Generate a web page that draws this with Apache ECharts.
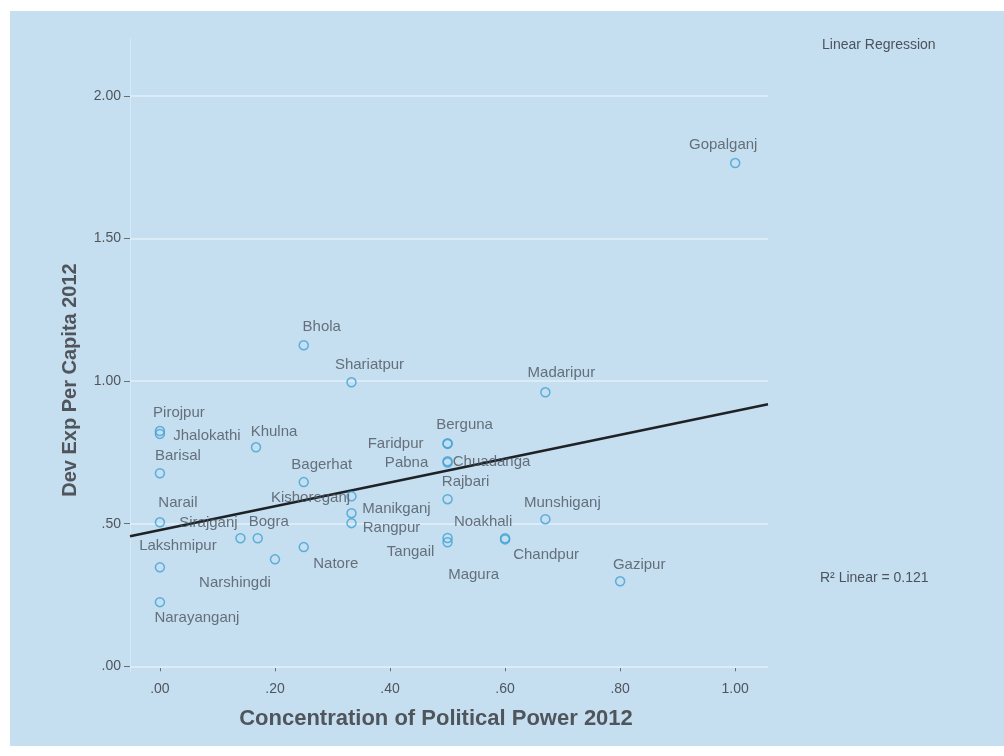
<!DOCTYPE html>
<html>
<head>
<meta charset="utf-8">
<script src="https://cdn.jsdelivr.net/npm/echarts@6/dist/echarts.min.js"></script>
<style>
html,body{margin:0;padding:0;background:#ffffff;}
#chart{width:1004px;height:756px;}
</style>
</head>
<body>
<div id="chart"></div>
<script>
// ---- data ----
const districts = ['Gopalganj','Bhola','Shariatpur','Madaripur','Pirojpur','Jhalokathi','Khulna','Barisal','Bagerhat','Berguna','Faridpur','Pabna','Chuadanga','Rajbari','Kishoreganj','Manikganj','Rangpur','Noakhali','Chandpur','Tangail','Magura','Munshiganj','Gazipur','Narail','Sirajganj','Bogra','Lakshmipur','Narshingdi','Natore','Narayanganj'];
const politicalPower = [1.00,0.25,0.333,0.67,0.00,0.00,0.167,0.00,0.25,0.50,0.50,0.50,0.50,0.50,0.333,0.333,0.333,0.60,0.60,0.50,0.50,0.67,0.80,0.00,0.14,0.17,0.00,0.20,0.25,0.00];
const devExpPerCapita = [1.765,1.126,0.996,0.961,0.825,0.815,0.768,0.677,0.646,0.782,0.78,0.719,0.715,0.586,0.596,0.537,0.502,0.449,0.445,0.45,0.435,0.516,0.298,0.505,0.449,0.449,0.347,0.375,0.418,0.225];
const fitLineX = [-0.052, 1.057];
const fitLineY = [0.456, 0.919];
const xTicks = [0,0.2,0.4,0.6,0.8,1.0];
const yTicks = [0,0.5,1.0,1.5,2.0];
const xTitle = 'Concentration of Political Power 2012';
const yTitle = 'Dev Exp Per Capita 2012';
const rSquaredText = 'R\u00b2 Linear = 0.121';
const fitLegendText = 'Linear Regression';

// ---- label placement (layout only: label centre offset from its marker, px) ----
const labelOffset = [
  [-12,-18],[18,-18],[18,-17],[16,-19],[19,-18],
  [47,2],[18,-15],[18,-17],[18,-17],[17,-18],
  [-52,0],[-41,2],[44,-1],[18,-17],[-41,2],
  [45,-4],[40,5],[-22,-16],[41,15],[-37,14],
  [26,33],[17,-16],[19,-16],[18,-19],[-32,-15],
  [11,-16],[18,-21],[-40,23],[32,17],[37,16]
];

const fmt = v => { const s = Number(v).toFixed(2); return s.charAt(0) === '0' ? s.slice(1) : s; };
const FONT = '"Liberation Sans", Arial, sans-serif';
const TXT = '#4b535d';

const pts = districts.map((n, i) => ({
  name: n,
  value: [politicalPower[i], devExpPerCapita[i]],
  label: { offset: labelOffset[i] }
}));

const chart = echarts.init(document.getElementById('chart'), null, {renderer:'canvas'});
chart.setOption({
  backgroundColor: '#ffffff',
  animation: false,
  graphic: [
    { type:'rect', left:10, top:11, z:-10, shape:{width:994, height:735}, style:{fill:'#c5dff1'} },
    { type:'text', x:822, y:45, style:{text: fitLegendText, fill:TXT, font:'14px ' + FONT, textVerticalAlign:'middle'} },
    { type:'text', x:820, y:578, style:{text: rSquaredText, fill:TXT, font:'14px ' + FONT, textVerticalAlign:'middle'} },
    { type:'text', x:436, y:719, style:{text: xTitle, fill:'#50555c', font:'bold 22px ' + FONT, textAlign:'center', textVerticalAlign:'middle'} },
    { type:'text', x:70, y:380, rotation:Math.PI/2, style:{text: yTitle, fill:'#50555c', font:'bold 20px ' + FONT, textAlign:'center', textVerticalAlign:'middle'} }
  ],
  grid: { left:130, right:236, top:39, bottom:84, containLabel:false },
  xAxis: {
    type:'value', min:-0.052, max:1.057,
    axisLine:{show:false},
    axisTick:{show:true, customValues:xTicks, length:5, lineStyle:{color:'#6a6f75'}},
    axisLabel:{customValues:xTicks, formatter:fmt, fontFamily:FONT, fontSize:14, color:'#50555c', margin:10},
    splitLine:{show:false}
  },
  yAxis: {
    type:'value', min:-0.02, max:2.2,
    axisLine:{show:true, onZero:false, lineStyle:{color:'#d6e9f6', width:1}},
    axisTick:{show:true, customValues:yTicks, length:6, lineStyle:{color:'#6a6f75'}},
    axisLabel:{customValues:yTicks, formatter:fmt, fontFamily:FONT, fontSize:14, color:'#50555c', margin:9},
    splitLine:{show:false}
  },
  series: [
    {
      type:'line', silent:true, symbol:'none', z:3,
      data: fitLineX.map((x, i) => [x, fitLineY[i]]),
      lineStyle:{color:'#1e2226', width:2.5},
      markLine:{
        silent:true, symbol:'none', label:{show:false}, z:1,
        lineStyle:{color:'#dbecf8', width:2, type:'solid'},
        data: yTicks.map(v => ({yAxis:v}))
      }
    },
    {
      type:'scatter', z:4, symbol:'circle', symbolSize:9,
      itemStyle:{color:'rgba(0,0,0,0)', borderColor:'#41a0d4', borderWidth:1.5},
      label:{show:true, position:'inside', align:'center', verticalAlign:'middle', formatter:'{b}', fontFamily:FONT, fontSize:15, color:TXT},
      data: pts
    }
  ]
});
</script>
</body>
</html>
